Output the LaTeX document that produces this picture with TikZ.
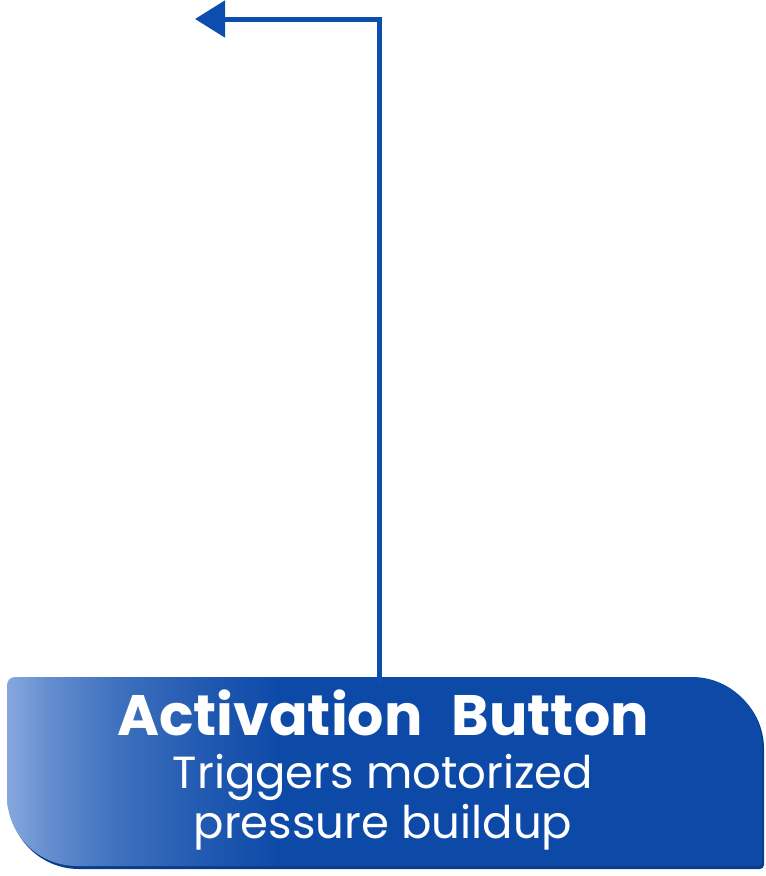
\documentclass[tikz,border=0pt]{standalone}
\usepackage{fontspec}
\setmainfont{Poppins}
\usetikzlibrary{arrows.meta}
\definecolor{arrowblue}{HTML}{0D4DAE}
\definecolor{boxdark}{HTML}{0D4AA8}
\definecolor{boxlight}{HTML}{86A8DE}
\definecolor{boxedge}{HTML}{0A3C8C}
\pgfdeclarehorizontalshading{btnshade}{100bp}{
  color(0bp)=(boxlight); color(25bp)=(boxlight); color(28bp)=(boxlight!70!boxdark); color(32.5bp)=(boxlight!40!boxdark); color(38.5bp)=(boxlight!15!boxdark); color(43bp)=(boxdark); color(100bp)=(boxdark)}
\tikzset{
  connector/.style={draw=arrowblue, line width=5pt, -{Triangle[length=30pt,width=36pt]}},
  btntitle/.style={text=white, font=\bfseries\fontsize{57}{60}\selectfont, inner sep=0pt, anchor=base},
  btnsub/.style={text=white, font=\fontsize{45}{50}\selectfont, inner sep=0pt, anchor=base},
}
\begin{document}
\begin{tikzpicture}[x=1pt,y=-1pt]
\useasboundingbox (0,0) rectangle (766,876);
% shadow edge
\fill[boxedge] (9,687) arc[start angle=180,end angle=270,radius=8] -- (694,679) arc[start angle=-90,end angle=0,radius=70] -- (764,865) arc[start angle=0,end angle=90,radius=4] -- (79,869) arc[start angle=90,end angle=180,radius=70] -- cycle;
% button shape
\path[shading=btnshade] (7,685) arc[start angle=180,end angle=270,radius=8] -- (692,677) arc[start angle=-90,end angle=0,radius=70] -- (762,862) arc[start angle=0,end angle=90,radius=4] -- (77,866) arc[start angle=90,end angle=180,radius=70] -- cycle;
\coordinate (btn) at (379,677);
\node[btntitle] (title) at (383,735) {Activation\hspace{0.3em} Button};
\node[btnsub] (sub1) at (383,788) {Triggers motorized};
\node[btnsub] (sub2) at (383,838) {pressure buildup};
\coordinate (corner) at (379,19);
\coordinate (tip) at (195,19);
\draw[connector] ([yshift=-7pt]btn) -- (corner) -- (tip);
\end{tikzpicture}
\end{document}
